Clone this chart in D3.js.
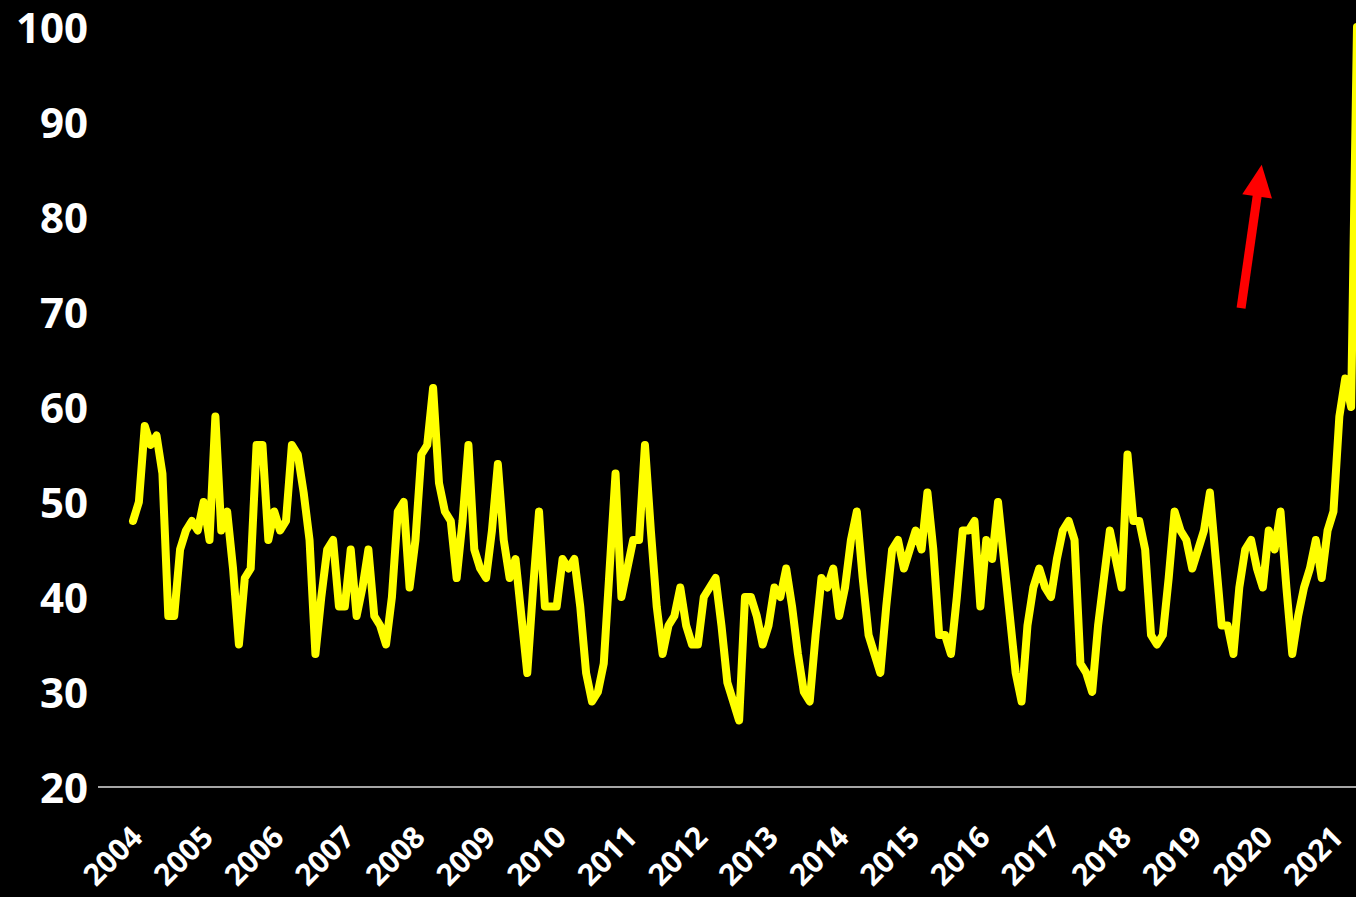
<!DOCTYPE html>
<html>
<head>
<meta charset="utf-8">
<script src="https://cdnjs.cloudflare.com/ajax/libs/d3/7.8.5/d3.min.js"></script>
<style>
  body { margin: 0; background: #000; }
  svg { display: block; }
</style>
</head>
<body>
<svg id="chart" width="1356" height="897"></svg>
<script>
// monthly index, Jan 2004 = 0
let yearLabels = ['2004','2005','2006','2007','2008','2009','2010','2011','2012',
                  '2013','2014','2015','2016','2017','2018','2019','2020','2021'];
let yTicks = [20, 30, 40, 50, 60, 70, 80, 90, 100];

let interest = [
  48,50,58,56,57,53,38,38,45,47,48,47,   // 2004
  50,46,59,47,49,43,35,42,43,56,56,46,   // 2005
  49,47,48,56,55,51,46,34,40,45,46,39,   // 2006
  39,45,38,41,45,38,37,35,40,49,50,41,   // 2007
  46,55,56,62,52,49,48,42,48,56,45,43,   // 2008
  42,47,54,46,42,44,38,32,41,49,39,39,   // 2009
  39,44,43,44,39,32,29,30,33,43,53,40,   // 2010
  43,46,46,56,47,39,34,37,38,41,37,35,   // 2011
  35,40,41,42,37,31,29,27,40,40,38,35,   // 2012
  37,41,40,43,39,34,30,29,36,42,41,43,   // 2013
  38,41,46,49,42,36,34,32,39,45,46,43,   // 2014
  45,47,45,51,45,36,36,34,40,47,47,48,   // 2015
  39,46,44,50,44,38,32,29,37,41,43,41,   // 2016
  40,44,47,48,46,33,32,30,37,42,47,44,   // 2017
  41,55,48,48,45,36,35,36,42,49,47,46,   // 2018
  43,45,47,51,44,37,37,34,41,45,46,43,   // 2019
  41,47,45,49,41,34,38,41,43,46,42,47,   // 2020
  49,59,63,60,100                        // 2021
];

let arrowFrom = [188.3, 70.4];
let arrowTo = [191.8, 85.5];

let svg = d3.select('#chart');

let x = d3.scaleLinear()
    .domain([0, 208])
    .range([133, 1357]);

let y = d3.scaleLinear()
    .domain([20, 100])
    .range([787, 27]);

// baseline
svg.append('line')
    .attr('x1', 98)
    .attr('x2', 1356)
    .attr('y1', y(20))
    .attr('y2', y(20))
    .attr('stroke', '#a6a6a6')
    .attr('stroke-width', 2);

// y axis labels
let yAxis = svg.append('g')
    .attr('transform', 'translate(88,0)')
    .call(d3.axisLeft(y).tickValues(yTicks).tickSize(0).tickPadding(0));
yAxis.select('.domain').remove();
yAxis.selectAll('text')
    .attr('fill', '#fff')
    .attr('dy', '0.36em')
    .style('font-family', '"Open Sans", sans-serif')
    .style('font-weight', 700)
    .style('font-size', '42px');

// x axis labels (one per year, rotated)
let xAxis = svg.append('g')
    .attr('transform', 'translate(0,' + y(20) + ')')
    .call(d3.axisBottom(x)
        .tickValues(yearLabels.map((d, i) => i * 12))
        .tickFormat((d) => yearLabels[d / 12])
        .tickSize(0));
xAxis.select('.domain').remove();
xAxis.selectAll('text')
    .attr('fill', '#fff')
    .attr('x', 0)
    .attr('y', 0)
    .attr('dy', 0)
    .attr('text-anchor', 'end')
    .attr('transform', 'translate(11,52) rotate(-45)')
    .style('font-family', '"Open Sans", sans-serif')
    .style('font-weight', 700)
    .style('font-size', '30px');

// the series
let line = d3.line()
    .x((d, i) => x(i))
    .y((d) => y(d));

svg.append('path')
    .datum(interest)
    .attr('d', line)
    .attr('fill', 'none')
    .attr('stroke', '#ffff00')
    .attr('stroke-width', 8)
    .attr('stroke-linejoin', 'round')
    .attr('stroke-linecap', 'round');

// red arrow annotation
let x0 = x(arrowFrom[0]), y0 = y(arrowFrom[1]);
let x1 = x(arrowTo[0]), y1 = y(arrowTo[1]);
let ang = Math.atan2(y1 - y0, x1 - x0);
let headLen = 32, headHalf = 15;
let bx = x1 - headLen * Math.cos(ang), by = y1 - headLen * Math.sin(ang);

svg.append('line')
    .attr('x1', x0).attr('y1', y0)
    .attr('x2', bx + 2 * Math.cos(ang)).attr('y2', by + 2 * Math.sin(ang))
    .attr('stroke', '#ff0000')
    .attr('stroke-width', 9);

svg.append('path')
    .attr('d', 'M' + x1 + ',' + y1 +
               'L' + (bx + headHalf * Math.sin(ang)) + ',' + (by - headHalf * Math.cos(ang)) +
               'L' + (bx - headHalf * Math.sin(ang)) + ',' + (by + headHalf * Math.cos(ang)) + 'Z')
    .attr('fill', '#ff0000');
</script>
</body>
</html>
